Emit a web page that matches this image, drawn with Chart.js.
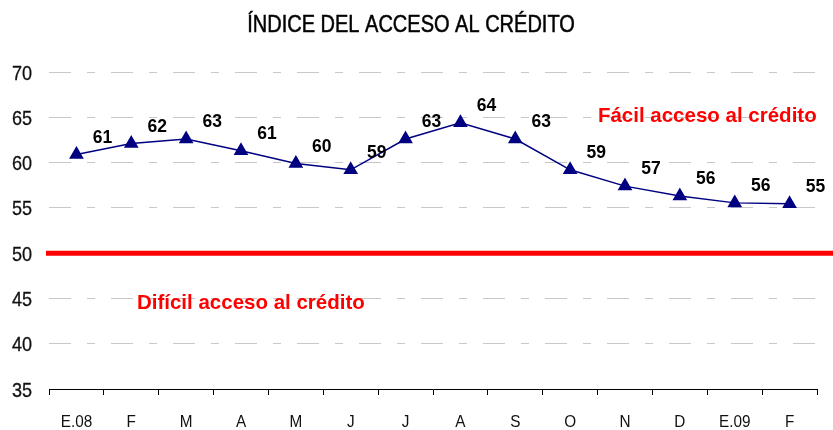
<!DOCTYPE html>
<html>
<head>
<meta charset="utf-8">
<script src="https://cdn.jsdelivr.net/npm/chart.js@4/dist/chart.umd.min.js"></script>
<style>
  html, body { margin: 0; padding: 0; background: #fff; }
  #wrap { width: 833px; height: 430px; position: relative; }
</style>
</head>
<body>
<div id="wrap"><canvas id="c" width="833" height="430"></canvas></div>
<script>
const chartTitle = 'ÍNDICE DEL ACCESO AL CRÉDITO';
const categories = ['E.08', 'F', 'M', 'A', 'M', 'J', 'J', 'A', 'S', 'O', 'N', 'D', 'E.09', 'F'];
const indexValues = [60.9, 62.1, 62.6, 61.3, 59.9, 59.2, 62.6, 64.4, 62.6, 59.2, 57.4, 56.3, 55.55, 55.45];
const yTicks = [35, 40, 45, 50, 55, 60, 65, 70];
const thresholdValue = 50;
const easyText = 'Fácil acceso al crédito';
const hardText = 'Difícil acceso al crédito';

const SANS = "'Liberation Sans', Arial, sans-serif";
const NARROW_SCALE = 0.87;

function narrowText(ctx, text, x, y, font, color, align, sx, stroke) {
  ctx.save();
  ctx.font = font;
  ctx.fillStyle = color;
  ctx.textAlign = align;
  ctx.textBaseline = 'alphabetic';
  ctx.translate(x, y);
  ctx.scale(sx, 1);
  ctx.fillText(text, 0, 0);
  if (stroke) {
    ctx.strokeStyle = color;
    ctx.lineWidth = stroke;
    ctx.strokeText(text, 0, 0);
  }
  ctx.restore();
}

const decorPlugin = {
  id: 'decor',
  beforeDatasetsDraw(chart) {
    const ctx = chart.ctx;
    const y = chart.scales.y.getPixelForValue(thresholdValue);
    ctx.save();
    ctx.strokeStyle = '#ff0000';
    ctx.lineWidth = 5;
    ctx.beginPath();
    ctx.moveTo(chart.chartArea.left - 3, y);
    ctx.lineTo(chart.width, y);
    ctx.stroke();
    ctx.restore();
  },
  afterDraw(chart) {
    const ctx = chart.ctx;
    const xs = chart.scales.x, ys = chart.scales.y;
    // title
    narrowText(ctx, chartTitle, 411, 31.5, "23px " + SANS, '#000', 'center', NARROW_SCALE, 0.5);
    // y tick labels
    yTicks.forEach(v => {
      narrowText(ctx, String(v), 32, ys.getPixelForValue(v) + 7.5, "21px " + SANS, '#111', 'right', 0.86, 0.3);
    });
    // x tick labels
    categories.forEach((c, i) => {
      narrowText(ctx, c, xs.getPixelForValue(i), 426.7, "17px " + SANS, '#111', 'center', 0.9, 0);
    });
    // value labels
    ctx.save();
    ctx.fillStyle = '#000';
    ctx.font = "bold 17.5px " + SANS;
    ctx.textAlign = 'center';
    ctx.textBaseline = 'alphabetic';
    const meta = chart.getDatasetMeta(0);
    meta.data.forEach((pt, i) => {
      ctx.fillText(String(Math.round(indexValues[i])), pt.x + 26, pt.y - 18 + 6.3);
    });
    // annotations
    ctx.fillStyle = '#ff0000';
    ctx.font = "bold 20.5px " + SANS;
    ctx.fillText(easyText, xs.getPixelForValue(11.5), ys.getPixelForValue(64.5));
    ctx.fillText(hardText, xs.getPixelForValue(3.18), ys.getPixelForValue(43.8));
    ctx.restore();
  }
};

new Chart(document.getElementById('c'), {
  type: 'line',
  data: {
    labels: categories,
    datasets: [{
      data: indexValues,
      borderColor: '#000080',
      backgroundColor: '#000080',
      borderWidth: 1.5,
      pointStyle: 'triangle',
      pointRadius: 7,
      pointHoverRadius: 7,
      pointBackgroundColor: '#000080',
      pointBorderColor: '#000080',
      tension: 0,
      fill: false
    }]
  },
  options: {
    responsive: false,
    animation: false,
    events: [],
    layout: { padding: { top: 72, right: 16, left: 0, bottom: 0 } },
    plugins: { legend: { display: false }, title: { display: false }, tooltip: { enabled: false } },
    scales: {
      x: {
        offset: true,
        grid: { offset: true, drawOnChartArea: false, drawTicks: true, tickLength: 6, tickColor: '#000', tickWidth: 1 },
        border: { display: true, color: '#000', width: 1 },
        ticks: { display: false, autoSkip: false },
        afterFit(s) { s.height = 41; }
      },
      y: {
        min: 35, max: 70,
        afterBuildTicks(s) { s.ticks = yTicks.map(v => ({ value: v })); },
        grid: { color: '#c8c8c8', lineWidth: 1, drawTicks: false, borderDash: [22, 16, 8, 16] },
        border: { display: false, dash: [22, 16, 8, 16] },
        ticks: { display: false },
        afterFit(s) { s.width = 49; }
      }
    }
  },
  plugins: [decorPlugin]
});
</script>
</body>
</html>
